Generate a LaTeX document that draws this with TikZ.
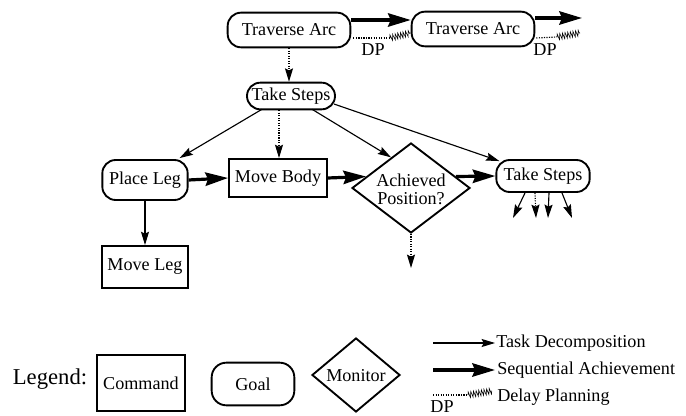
\documentclass[tikz,border=0pt]{standalone}
\usepackage{fontspec}
\setmainfont{Liberation Serif}
\usetikzlibrary{arrows.meta,shapes.geometric,calc,decorations.pathmorphing}
\newcommand\nfnt{\fontsize{13.6}{14.5}\selectfont}
\newcommand\lgfnt{\fontsize{17}{19}\selectfont}
\begin{document}
\begin{tikzpicture}[x=0.75pt,y=-0.75pt,
 cmd/.style={draw,line width=1.4pt,inner sep=0pt,font=\nfnt},
 goal/.style={draw,line width=1.4pt,rounded corners=10pt,inner sep=0pt,font=\nfnt},
 mon/.style={draw,diamond,line width=1.4pt,inner sep=0pt},
 txt/.style={inner sep=0pt,font=\nfnt,align=center},
 decomp/.style={line width=0.85pt,-{Stealth[length=10pt,width=6pt,inset=1.5pt]}},
 seq/.style={line width=2.4pt,-{Stealth[length=17pt,width=10pt,inset=2pt]}},
 dpdot/.style={line width=0.9pt,densely dotted},
 dphatch/.style={line width=0.45pt,decorate,decoration={zigzag,segment length=2pt,amplitude=2.2pt}},
]
\useasboundingbox (0,0) rectangle (686,416);

% nodes
\node[goal,minimum width=92pt,minimum height=26pt] (ta1) at (289,30) {Traverse Arc};
\node[goal,minimum width=92pt,minimum height=26pt] (ta2) at (473,29) {Traverse Arc};
\node[goal,minimum width=66pt,minimum height=20pt] (ts1) at (291,96) {Take Steps};
\node[goal,minimum width=64pt,minimum height=30pt] (pl) at (145,180) {Place Leg};
\node[cmd,minimum width=73.5pt,minimum height=28.5pt] (mb) at (278,178) {Move Body};
\node[mon,minimum width=88.5pt,minimum height=67.5pt] (ap) at (411,188) {};
\node[txt] (aptxt) at (411,189) {Achieved\\[-1pt]Position?};
\node[goal,minimum width=70pt,minimum height=24pt] (ts2) at (543,176) {Take Steps};
\node[cmd,minimum width=64pt,minimum height=31.5pt] (ml) at (145,267) {Move Leg};

% free ends
\coordinate (ta2end) at (582,18);
\coordinate (dp1m) at (390,38);
\coordinate (dp2m) at (557,37);
\coordinate (dp2e) at (580,33);
\coordinate (apdown) at (411,268);
\coordinate (e1) at (513,218);
\coordinate (e2) at (536,218);
\coordinate (e3) at (548,218);
\coordinate (e4) at (572,218);

% top sequential arrows
\draw[seq] ($(ta1.east)+(0,-10)$) -- ($(ta2.west)+(0,-9)$);
\draw[seq] ($(ta2.east)+(0,-11)$) -- (ta2end);
% delay planning
\draw[dpdot] ($(ta1.east)+(2,8)$) -- (dp1m);
\draw[dphatch] (dp1m) -- ($(ta2.west)+(0,4)$);
\node[txt] (dp1) at (373,50) {DP};
\draw[dpdot] ($(ta2.east)+(1,9)$) -- (dp2m);
\draw[dphatch] (dp2m) -- (dp2e);
\node[txt] (dp2) at (545,50) {DP};

% decomposition
\draw[decomp,densely dotted] (ta1.south) -- (ta1.south |- ts1.north);
\draw[decomp] ($(ts1.south)+(-29,-1)$) -- ($(pl.north east)+(-9,-1)$);
\draw[decomp,densely dotted] ($(ts1.south)+(-12,0)$) -- ($(mb.north)+(1,0)$);
\draw[decomp] ($(ts1.south)+(21,-1)$) -- ($(ap.west)!0.667!(ap.north)$);
\draw[decomp] ($(ts1.east)+(-2,8)$) -- ($(ts2.north west)+(4,2)$);
\draw[decomp] (pl.south) -- (ml.north);
\draw[decomp,densely dotted] (ap.south) -- (apdown);
\draw[decomp] ($(ts2.south)+(-18,0)$) -- (e1);
\draw[decomp,densely dotted] ($(ts2.south)+(-8,0)$) -- (e2);
\draw[decomp] ($(ts2.south)+(6,0)$) -- (e3);
\draw[decomp] ($(ts2.south)+(19,0)$) -- (e4);

% sequential
\draw[seq] (pl.east) -- (mb.west);
\draw[seq] (mb.east) -- ($(ap.west)!0.25!(ap.north)$);
\draw[seq] ($(ap.east)!0.25!(ap.north)$) -- (ts2.west);

% legend
\node[inner sep=0pt,font=\lgfnt] (lg) at (50,379) {Legend:};
\node[cmd,minimum width=66pt,minimum height=42pt] (lcmd) at (141,383) {Command};
\node[goal,minimum width=62pt,minimum height=32pt,rounded corners=11pt] (lgoal) at (253,384) {Goal};
\node[mon,minimum width=66pt,minimum height=55.5pt] (lmon) at (356,375) {};
\node[txt] (lmontxt) at (356,376) {Monitor};

\coordinate (td1) at (433,343);
\coordinate (td2) at (495,343);
\coordinate (sa1) at (433,370);
\coordinate (sa2) at (495,370);
\coordinate (dl1) at (433,395);
\coordinate (dl2) at (468,395);
\coordinate (dl3) at (492,391);
\draw[decomp] (td1) -- (td2);
\draw[seq] (sa1) -- (sa2);
\draw[dpdot] (dl1) -- (dl2);
\draw[dphatch] (dl2) -- (dl3);
\node[txt,anchor=west] (ltd) at (496,343) {Task Decomposition};
\node[txt,anchor=west] (lsa) at (497,370) {Sequential Achievement};
\node[txt,anchor=west] (ldp) at (497,397) {Delay Planning};
\node[txt] (ldpl) at (442,407) {DP};
\end{tikzpicture}
\end{document}
